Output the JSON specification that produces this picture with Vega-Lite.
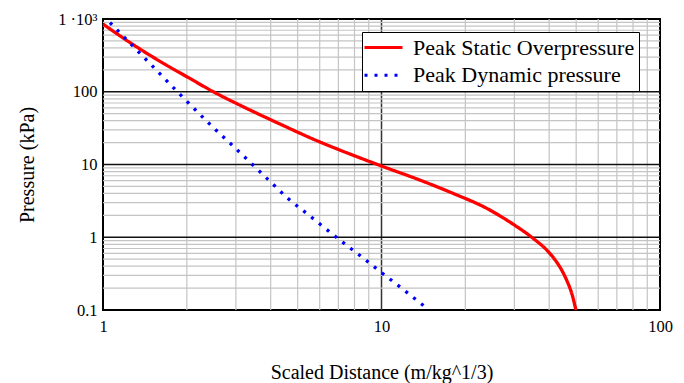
{
  "$schema": "https://vega.github.io/schema/vega-lite/v6.json",
  "width": 557,
  "height": 291,
  "autosize": {"type": "none"},
  "padding": {"left": 103, "top": 19, "right": 24, "bottom": 73},
  "background": "white",
  "config": {
    "view": {"stroke": "black", "strokeWidth": 2},
    "font": "Liberation Serif",
    "axis": {"labelColor": "black", "titleColor": "black", "titleFontWeight": "normal", "labelFont": "Liberation Serif", "titleFont": "Liberation Serif"},
    "legend": {"labelFont": "Liberation Serif"}
  },
  "datasets": {
    "curves": [
      {"series": "Peak Static Overpressure", "x": 1, "y": 850},
      {"series": "Peak Static Overpressure", "x": 1.3, "y": 430},
      {"series": "Peak Static Overpressure", "x": 1.69, "y": 232},
      {"series": "Peak Static Overpressure", "x": 2.0, "y": 161},
      {"series": "Peak Static Overpressure", "x": 2.49, "y": 100},
      {"series": "Peak Static Overpressure", "x": 3.28, "y": 59},
      {"series": "Peak Static Overpressure", "x": 4.32, "y": 36},
      {"series": "Peak Static Overpressure", "x": 5.69, "y": 22.3},
      {"series": "Peak Static Overpressure", "x": 7.5, "y": 14.5},
      {"series": "Peak Static Overpressure", "x": 10.1, "y": 9.4},
      {"series": "Peak Static Overpressure", "x": 13.75, "y": 6.1},
      {"series": "Peak Static Overpressure", "x": 18.1, "y": 4.0},
      {"series": "Peak Static Overpressure", "x": 23.9, "y": 2.49},
      {"series": "Peak Static Overpressure", "x": 29.7, "y": 1.51},
      {"series": "Peak Static Overpressure", "x": 35.1, "y": 0.96},
      {"series": "Peak Static Overpressure", "x": 39.2, "y": 0.667},
      {"series": "Peak Static Overpressure", "x": 42.0, "y": 0.489},
      {"series": "Peak Static Overpressure", "x": 44.5, "y": 0.346},
      {"series": "Peak Static Overpressure", "x": 46.5, "y": 0.244},
      {"series": "Peak Static Overpressure", "x": 48.3, "y": 0.165},
      {"series": "Peak Static Overpressure", "x": 49.9, "y": 0.1},
      {"series": "Peak Dynamic pressure", "x": 1, "y": 1120},
      {"series": "Peak Dynamic pressure", "x": 1.06, "y": 891},
      {"series": "Peak Dynamic pressure", "x": 1.2, "y": 547},
      {"series": "Peak Dynamic pressure", "x": 1.5, "y": 228},
      {"series": "Peak Dynamic pressure", "x": 1.85, "y": 100},
      {"series": "Peak Dynamic pressure", "x": 2.5, "y": 31.7},
      {"series": "Peak Dynamic pressure", "x": 3, "y": 16.5},
      {"series": "Peak Dynamic pressure", "x": 4, "y": 5.75},
      {"series": "Peak Dynamic pressure", "x": 4.6, "y": 3.45},
      {"series": "Peak Dynamic pressure", "x": 5.5, "y": 2.0},
      {"series": "Peak Dynamic pressure", "x": 7, "y": 0.95},
      {"series": "Peak Dynamic pressure", "x": 8.5, "y": 0.535},
      {"series": "Peak Dynamic pressure", "x": 9.82, "y": 0.345},
      {"series": "Peak Dynamic pressure", "x": 12, "y": 0.19},
      {"series": "Peak Dynamic pressure", "x": 14.8, "y": 0.1}
    ],
    "gridxminor": [
      {"x": 2}, {"x": 3}, {"x": 4}, {"x": 5}, {"x": 6}, {"x": 7}, {"x": 8}, {"x": 9},
      {"x": 20}, {"x": 30}, {"x": 40}, {"x": 50}, {"x": 60}, {"x": 70}, {"x": 80}, {"x": 90}
    ],
    "gridxmajor": [{"x": 10}],
    "gridyminor": [
      {"y": 0.2}, {"y": 0.3}, {"y": 0.4}, {"y": 0.5}, {"y": 0.6}, {"y": 0.7}, {"y": 0.8}, {"y": 0.9},
      {"y": 2}, {"y": 3}, {"y": 4}, {"y": 5}, {"y": 6}, {"y": 7}, {"y": 8}, {"y": 9},
      {"y": 20}, {"y": 30}, {"y": 40}, {"y": 50}, {"y": 60}, {"y": 70}, {"y": 80}, {"y": 90},
      {"y": 200}, {"y": 300}, {"y": 400}, {"y": 500}, {"y": 600}, {"y": 700}, {"y": 800}, {"y": 900}
    ],
    "gridymajor": [{"y": 1}, {"y": 10}, {"y": 100}]
  },
  "layer": [
    {
      "data": {"name": "gridxminor"},
      "mark": {"type": "rule", "color": "#c4c4c4", "strokeWidth": 1.2},
      "encoding": {
        "x": {
          "field": "x", "type": "quantitative",
          "scale": {"type": "log", "domain": [1, 100], "nice": false},
          "axis": {
            "values": [1, 10, 100], "grid": false, "ticks": false, "domain": false,
            "labelFlush": false, "labelFontSize": 16.5, "labelPadding": 8,
            "labelFont": "Liberation Serif", "labelColor": "black",
            "labelExpr": "format(datum.value, 'd')",
            "title": "Scaled Distance (m/kg^1/3)", "titleFontSize": 20,
            "titleFont": "Liberation Serif", "titleFontWeight": "normal", "titleColor": "black",
            "titleBaseline": "middle", "titleY": 62
          }
        }
      }
    },
    {
      "data": {"name": "gridxmajor"},
      "mark": {"type": "rule", "color": "#333333", "strokeWidth": 1.5},
      "encoding": {
        "x": {"field": "x", "type": "quantitative", "scale": {"type": "log", "domain": [1, 100], "nice": false}}
      }
    },
    {
      "data": {"name": "gridyminor"},
      "mark": {"type": "rule", "color": "#c4c4c4", "strokeWidth": 1.2},
      "encoding": {
        "y": {
          "field": "y", "type": "quantitative",
          "scale": {"type": "log", "domain": [0.1, 1000], "nice": false},
          "axis": {
            "values": [0.1, 1, 10, 100, 1000], "grid": false, "ticks": false, "domain": false,
            "labelFlush": false, "labelFontSize": 16.5, "labelPadding": 6,
            "labelFont": "Liberation Serif", "labelColor": "black",
            "labelExpr": "datum.value >= 1000 ? '1 ·10³' : (datum.value < 1 ? '0.1' : format(datum.value, 'd'))",
            "title": "Pressure (kPa)", "titleFontSize": 20,
            "titleFont": "Liberation Serif", "titleFontWeight": "normal", "titleColor": "black",
            "titleX": -76, "titleBaseline": "middle", "titleAlign": "center"
          }
        }
      }
    },
    {
      "data": {"name": "gridymajor"},
      "mark": {"type": "rule", "color": "#111111", "strokeWidth": 1.5},
      "encoding": {
        "y": {"field": "y", "type": "quantitative", "scale": {"type": "log", "domain": [0.1, 1000], "nice": false}}
      }
    },
    {
      "data": {"name": "curves"},
      "mark": {"type": "line", "clip": true, "interpolate": "monotone", "strokeCap": "butt", "strokeJoin": "round", "strokeWidth": 3.3},
      "encoding": {
        "x": {"field": "x", "type": "quantitative", "scale": {"type": "log", "domain": [1, 100], "nice": false}},
        "y": {"field": "y", "type": "quantitative", "scale": {"type": "log", "domain": [0.1, 1000], "nice": false}},
        "color": {
          "field": "series", "type": "nominal",
          "scale": {"domain": ["Peak Static Overpressure", "Peak Dynamic pressure"], "range": ["#ff0000", "#0000ff"]},
          "legend": {
            "title": null, "orient": "none", "legendX": 259, "legendY": 13,
            "fillColor": "white", "strokeColor": "black", "padding": 4,
            "symbolType": "M-1.3,0H2.5", "symbolSize": 400, "symbolStrokeWidth": 3,
            "labelFont": "Liberation Serif", "labelFontSize": 22, "labelColor": "black",
            "labelOffset": 24, "rowPadding": 4.7, "labelLimit": 400
          }
        },
        "strokeDash": {
          "field": "series", "type": "nominal",
          "scale": {"domain": ["Peak Static Overpressure", "Peak Dynamic pressure"], "range": [[1, 0], [3, 7]]},
          "legend": {
            "title": null, "orient": "none", "legendX": 259, "legendY": 13,
            "fillColor": "white", "strokeColor": "black", "padding": 4,
            "symbolType": "M-1.3,0H2.5", "symbolSize": 400, "symbolStrokeWidth": 3,
            "labelFont": "Liberation Serif", "labelFontSize": 22, "labelColor": "black",
            "labelOffset": 24, "rowPadding": 4.7, "labelLimit": 400
          }
        }
      }
    }
  ]
}
